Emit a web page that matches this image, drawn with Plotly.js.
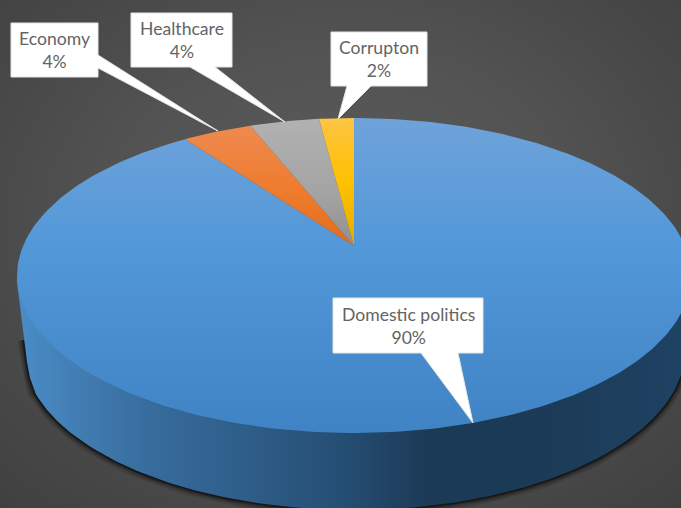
<!DOCTYPE html>
<html>
<head>
<meta charset="utf-8">
<script src="https://cdn.plot.ly/plotly-3.0.1.min.js"></script>
<style>
  html, body { margin: 0; padding: 0; background: #4a4a4a; }
  #chart {
    width: 681px; height: 508px;
    background: radial-gradient(ellipse 500px 390px at 340px 225px, #5c5c5c 0%, #535353 45%, #484848 75%, #404040 100%);
  }
</style>
</head>
<body>
<div id="chart"></div>
<script>
// Topic shares, in percent, clockwise from twelve o'clock
const categories = ["Domestic politics", "Economy", "Healthcare", "Corrupton"];
const shares = [90, 4, 4, 2];

// Face colours per slice: light (back) to dark (front)
const sliceRamps = [
  [[0, "#6fa3da"], [0.4, "#5398d8"], [1, "#3f83c4"]],
  [[0, "#ef8c54"], [0.6, "#ee7a2c"], [1, "#e26c1e"]],
  [[0, "#b2b2b2"], [0.6, "#a3a3a3"], [1, "#8f8f8f"]],
  [[0, "#fdc544"], [0.5, "#ffc000"], [1, "#e3ad00"]]
];

// Callout boxes [left, top, right, bottom], pointer base points, and tip
const callouts = [
  { box: [333, 298, 483, 353], base: [[458, 353], [421, 353]], tip: [473, 423] },
  { box: [11, 23, 98, 77],     base: [[98, 55], [98, 68]],     tip: [218, 131] },
  { box: [131, 13, 232, 67],   base: [[215, 67], [190, 67]],   tip: [285, 122] },
  { box: [331, 32, 427, 86],   base: [[371, 86], [347, 86]],   tip: [338, 119] }
];

// Perspective disc: the apex sits above the centre of the drawn ellipse
const apex = [354, 246], spreadX = 331, spreadY = 152, tilt = 0.1873;
const base = { cx: 354, cy: 350, rx: 331, ry: 160 };
// Left silhouette of the wall, from the crease down to where the base curve takes over
const leftEdge = [[17, 282], [20, 305], [24, 340], [27, 362], [30, 378]];

function rim(theta) {
  const X = Math.sin(theta), Y = Math.cos(theta), w = 1 + tilt * Y;
  return [apex[0] + spreadX * X / w, apex[1] - spreadY * Y / w];
}

function sliceOutline(from, to) {
  const xs = [apex[0]], ys = [apex[1]];
  const steps = Math.max(6, Math.round((to - from) * 60));
  for (let i = 0; i <= steps; i++) {
    const p = rim(from + (to - from) * i / steps);
    xs.push(p[0]); ys.push(p[1]);
  }
  xs.push(apex[0]); ys.push(apex[1]);
  return { xs, ys };
}

// Lower silhouette: left edge, then the base ellipse left to right
const arcX = leftEdge.map(p => p[0]), arcY = leftEdge.map(p => p[1]);
for (let i = 0; i <= 180; i++) {
  const a = Math.PI - Math.PI * i / 180;
  const x = base.cx + base.rx * Math.cos(a), y = base.cy + base.ry * Math.sin(a);
  if (y > 390 || x > base.cx) { arcX.push(x); arcY.push(y); }
}

const traces = [];

// Soft contact shadow along the base, fading in below the crease
[[14, 0.10], [10, 0.16], [6, 0.28], [3, 0.4]].forEach(([width, alpha]) => {
  traces.push({
    type: "scatter", mode: "lines", x: arcX.slice(2), y: arcY.slice(2), hoverinfo: "skip",
    line: { color: "rgba(0,0,0," + alpha + ")", width }
  });
});

// Side wall of the disc
traces.push({
  type: "scatter", mode: "lines", hoverinfo: "skip",
  x: arcX.concat([691, 17, arcX[0]]),
  y: arcY.concat([275, 275, arcY[0]]),
  fill: "toself",
  line: { width: 0 },
  fillcolor: "#2a5a88",
  fillgradient: {
    type: "horizontal", start: 17, stop: 681,
    colorscale: [
      [0, "#4a8dc8"], [0.08, "#437fb5"], [0.2, "#376c9d"], [0.33, "#2f5f8b"],
      [0.48, "#264f75"], [0.62, "#1c3a56"], [0.78, "#1b3a56"], [1, "#1f4263"]
    ]
  }
});

// Top face slices, laid out from the shares
const total = shares.reduce((a, b) => a + b, 0);
let running = 0;
shares.forEach((value, i) => {
  const from = running / total * 2 * Math.PI;
  running += value;
  const to = running / total * 2 * Math.PI;
  const o = sliceOutline(from, to);
  traces.push({
    type: "scatter", mode: "lines", name: categories[i], hoverinfo: "skip",
    x: o.xs, y: o.ys, fill: "toself", line: { width: 0 },
    fillcolor: sliceRamps[i][1][1],
    fillgradient: {
      type: "vertical",
      start: 118, stop: i === 0 ? 433 : 246,
      colorscale: sliceRamps[i]
    }
  });
});

// White callouts with their pointers, and the label text
const shapes = callouts.map(c => {
  const [l, t, r, b] = c.box;
  const [p, q] = c.base;
  let path;
  if (p[1] === b && q[1] === b) {
    path = `M${l},${t}L${r},${t}L${r},${b}L${p[0]},${b}L${c.tip[0]},${c.tip[1]}L${q[0]},${b}L${l},${b}Z`;
  } else {
    path = `M${l},${t}L${r},${t}L${p[0]},${p[1]}L${c.tip[0]},${c.tip[1]}L${q[0]},${q[1]}L${r},${b}L${l},${b}Z`;
  }
  return { type: "path", xref: "x", yref: "y", path, fillcolor: "#ffffff", line: { color: "#e4e4e4", width: 1 } };
});

const annotations = callouts.map((c, i) => ({
  xref: "x", yref: "y",
  x: (c.box[0] + c.box[2]) / 2, y: (c.box[1] + c.box[3]) / 2,
  text: categories[i] + "<br>" + shares[i] + "%",
  showarrow: false, align: "center",
  font: { family: "Lato, 'Open Sans', sans-serif", size: 17.6, color: "#646464" }
}));

Plotly.newPlot("chart", traces, {
  width: 681, height: 508,
  margin: { l: 0, r: 0, t: 0, b: 0 },
  paper_bgcolor: "rgba(0,0,0,0)", plot_bgcolor: "rgba(0,0,0,0)",
  showlegend: false,
  xaxis: { range: [0, 681], visible: false, fixedrange: true },
  yaxis: { range: [508, 0], visible: false, fixedrange: true },
  shapes, annotations
}, { staticPlot: true, displayModeBar: false });
</script>
</body>
</html>
